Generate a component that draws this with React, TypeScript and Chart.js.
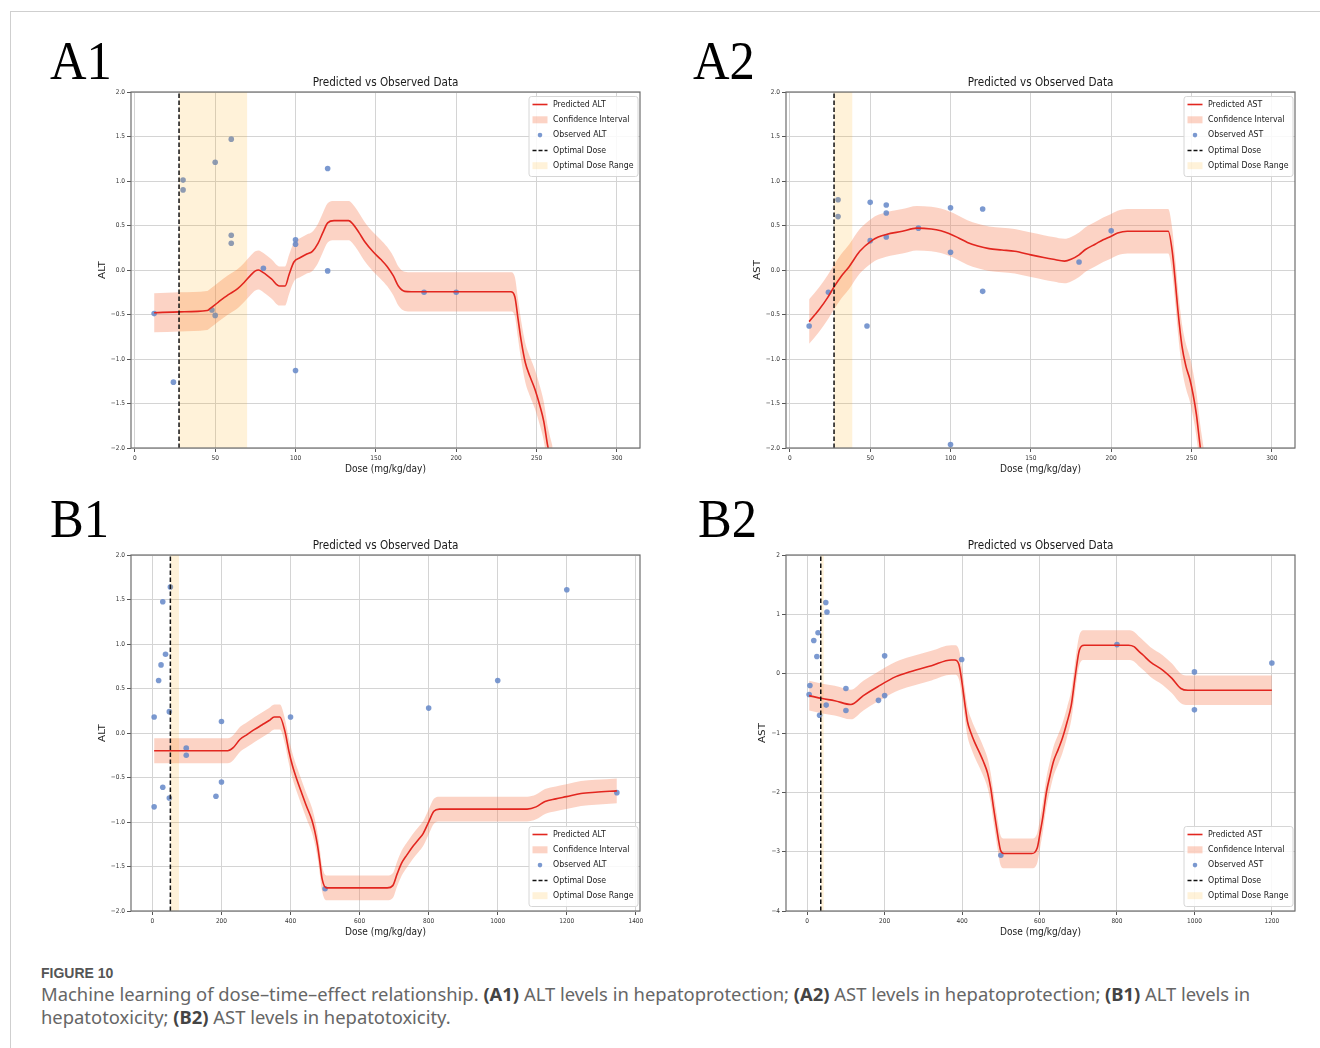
import React, { useEffect, useRef } from 'react';
import { Chart, registerables } from 'chart.js';

Chart.register(...registerables);

// ---------------- A1 : ALT, hepatoprotection ----------------
const a1PredDose = [12, 28, 45, 47, 52, 58, 64, 68, 72, 75, 77, 80, 85, 90, 93.5, 96, 99, 103, 107, 110.5, 114, 117, 120, 124, 133, 136, 139.5, 143, 148, 153, 157, 161, 164, 168, 172, 234, 236.5, 238.5, 240.5, 243, 246, 249, 252, 254.5, 257, 260];
const a1PredALT = [-0.48, -0.47, -0.455, -0.43, -0.36, -0.28, -0.21, -0.14, -0.06, -0.01, 0.0, -0.03, -0.1, -0.18, -0.18, -0.05, 0.09, 0.14, 0.18, 0.21, 0.3, 0.42, 0.53, 0.555, 0.555, 0.51, 0.42, 0.32, 0.21, 0.12, 0.04, -0.07, -0.18, -0.24, -0.245, -0.245, -0.3, -0.55, -0.8, -1.04, -1.2, -1.34, -1.52, -1.7, -1.98, -2.2];
const a1CiHalfWidth = 0.22;
const a1ObsDose = [12, 24, 30, 30, 48, 50, 50, 60, 60, 60, 80, 100, 100, 100, 120, 120, 180, 200];
const a1ObsALT = [-0.49, -1.26, 1.01, 0.9, -0.45, 1.21, -0.51, 1.47, 0.39, 0.3, 0.02, 0.34, 0.29, -1.13, 1.14, -0.01, -0.25, -0.25];
const a1OptimalDose = 27.5;
const a1OptimalRange = [27.5, 70];

// ---------------- A2 : AST, hepatoprotection ----------------
const a2PredDose = [12, 18, 23.5, 27.5, 32, 37, 43.5, 51, 55, 60, 70, 79, 88, 94, 99, 105, 110.5, 117, 124, 132, 140, 150, 158, 164, 171, 175, 180, 184, 190, 195, 200, 204, 210, 235.5, 238, 240, 241.5, 244, 246.5, 249, 251, 253, 255.5, 258];
const a2PredAST = [-0.58, -0.45, -0.31, -0.19, -0.07, 0.04, 0.21, 0.33, 0.37, 0.4, 0.435, 0.47, 0.46, 0.44, 0.41, 0.36, 0.31, 0.27, 0.24, 0.225, 0.21, 0.17, 0.14, 0.12, 0.1, 0.12, 0.17, 0.23, 0.29, 0.34, 0.38, 0.415, 0.435, 0.435, 0.21, -0.15, -0.45, -0.85, -1.08, -1.23, -1.4, -1.62, -2.0, -2.3];
const a2CiHalfWidth = 0.25;
const a2ObsDose = [12, 24, 30, 30, 48, 50, 50, 60, 60, 60, 80, 100, 100, 100, 120, 120, 180, 200];
const a2ObsAST = [-0.63, -0.25, 0.79, 0.6, -0.63, 0.76, 0.33, 0.73, 0.64, 0.37, 0.47, 0.7, 0.2, -1.96, 0.685, -0.24, 0.09, 0.44];
const a2OptimalDose = 27.5;
const a2OptimalRange = [27.5, 39];

// ---------------- B1 : ALT, hepatotoxicity ----------------
const b1PredDose = [5, 218, 234, 254, 275, 296, 317, 338, 353, 369, 384, 395, 405, 418, 431, 446, 462, 470, 478, 485, 491, 504, 680, 696, 709, 722, 737, 753, 770, 784, 800, 815, 831, 1085, 1111, 1137, 1168, 1199, 1241, 1283, 1345];
const b1PredALT = [-0.2, -0.2, -0.165, -0.07, -0.015, 0.04, 0.09, 0.14, 0.18, 0.18, 0.015, -0.2, -0.36, -0.52, -0.66, -0.82, -0.98, -1.1, -1.26, -1.45, -1.63, -1.74, -1.74, -1.715, -1.58, -1.46, -1.37, -1.28, -1.2, -1.13, -1.0, -0.88, -0.855, -0.855, -0.83, -0.77, -0.74, -0.715, -0.68, -0.665, -0.65];
const b1CiHalfWidth = 0.14;
const b1ObsDose = [5, 5, 18, 25, 30, 30, 38, 49, 49, 52, 98, 98, 184, 200, 200, 400, 500, 800, 1000, 1200, 1345];
const b1ObsALT = [0.18, -0.83, 0.59, 0.765, 1.475, -0.61, 0.885, 0.24, -0.73, 1.64, -0.17, -0.25, -0.71, 0.13, -0.55, 0.18, -1.75, 0.28, 0.59, 1.61, -0.67];
const b1OptimalDose = 52;
const b1OptimalRange = [52, 77];

// ---------------- B2 : AST, hepatotoxicity ----------------
const b2PredDose = [5, 39, 71, 113, 145, 182, 229, 266, 321, 372, 381, 392, 400, 407, 414, 423, 432, 445, 455, 466, 474, 481, 488, 494, 499, 508, 580, 594, 601, 608, 618, 627, 636, 648, 659, 671, 682, 692, 703, 715, 830, 844, 856, 868, 886, 918, 942, 965, 983, 1200];
const b2PredAST = [-0.37, -0.42, -0.455, -0.52, -0.37, -0.22, -0.05, 0.034, 0.135, 0.23, 0.23, 0.15, -0.16, -0.5, -0.81, -1.0, -1.15, -1.33, -1.48, -1.68, -1.93, -2.25, -2.55, -2.8, -2.97, -3.03, -3.03, -2.94, -2.7, -2.44, -1.99, -1.72, -1.48, -1.28, -1.09, -0.82, -0.53, -0.05, 0.4, 0.48, 0.48, 0.455, 0.38, 0.31, 0.2, 0.06, -0.08, -0.25, -0.28, -0.28];
const b2CiHalfWidth = 0.25;
const b2ObsDose = [5, 7, 17, 25, 28, 32, 48, 51, 49, 100, 100, 184, 200, 200, 399, 500, 800, 1000, 1000, 1200];
const b2ObsAST = [-0.35, -0.2, 0.56, 0.29, 0.69, -0.7, 1.2, 1.04, -0.53, -0.25, -0.62, -0.45, 0.3, -0.37, 0.24, -3.06, 0.49, 0.03, -0.61, 0.18];
const b2OptimalDose = 35;
const b2OptimalRange = [35, 43];

// ---------------- ticks ----------------
const aDoseTicks = [0, 50, 100, 150, 200, 250, 300];
const aDoseTickLabels = ['0', '50', '100', '150', '200', '250', '300'];
const b1DoseTicks = [0, 200, 400, 600, 800, 1000, 1200, 1400];
const b1DoseTickLabels = ['0', '200', '400', '600', '800', '1000', '1200', '1400'];
const b2DoseTicks = [0, 200, 400, 600, 800, 1000, 1200];
const b2DoseTickLabels = ['0', '200', '400', '600', '800', '1000', '1200'];
const halfStepTicks = [-2, -1.5, -1, -0.5, 0, 0.5, 1, 1.5, 2];
const halfStepTickLabels = ['\u22122.0', '\u22121.5', '\u22121.0', '\u22120.5', '0.0', '0.5', '1.0', '1.5', '2.0'];
const b2LevelTicks = [-4, -3, -2, -1, 0, 1, 2];
const b2LevelTickLabels = ['\u22124', '\u22123', '\u22122', '\u22121', '0', '1', '2'];

// ---------------- styles ----------------
const SX = 0.87;
const TXT_FONT = "'DejaVu Sans', 'Liberation Sans', sans-serif";
const TICK_FONT = "'DejaVu Sans Condensed', 'DejaVu Sans', sans-serif";
const COL_PRED = '#e2261f';
const COL_CI = 'rgba(245,130,90,0.35)';
const COL_OBS = 'rgba(100,135,200,0.85)';
const COL_SPAN = 'rgba(255,165,0,0.15)';
const COL_DASH = '#111111';

type Panel = {
  key: string;
  marker: string;
  predX: number[];
  predY: number[];
  ciHalf: number;
  obsX: number[];
  obsY: number[];
  opt: number;
  range: number[];
  xMin: number;
  xMax: number;
  yMin: number;
  yMax: number;
  xTicks: number[];
  xLabels: string[];
  yTicks: number[];
  yLabels: string[];
  legendTop: boolean;
  yTitleOffset: number;
  L: number;
  T: number;
  R: number;
  B: number;
};

const panels: Panel[] = [
  { key: 'A1', marker: 'ALT', predX: a1PredDose, predY: a1PredALT, ciHalf: a1CiHalfWidth, obsX: a1ObsDose, obsY: a1ObsALT, opt: a1OptimalDose, range: a1OptimalRange, xMin: -2.4, xMax: 314.4, yMin: -2, yMax: 2, xTicks: aDoseTicks, xLabels: aDoseTickLabels, yTicks: halfStepTicks, yLabels: halfStepTickLabels, legendTop: true, yTitleOffset: 28.5, L: 131, T: 92, R: 640, B: 448 },
  { key: 'A2', marker: 'AST', predX: a2PredDose, predY: a2PredAST, ciHalf: a2CiHalfWidth, obsX: a2ObsDose, obsY: a2ObsAST, opt: a2OptimalDose, range: a2OptimalRange, xMin: -2.4, xMax: 314.4, yMin: -2, yMax: 2, xTicks: aDoseTicks, xLabels: aDoseTickLabels, yTicks: halfStepTicks, yLabels: halfStepTickLabels, legendTop: true, yTitleOffset: 28.5, L: 786, T: 92, R: 1295, B: 448 },
  { key: 'B1', marker: 'ALT', predX: b1PredDose, predY: b1PredALT, ciHalf: b1CiHalfWidth, obsX: b1ObsDose, obsY: b1ObsALT, opt: b1OptimalDose, range: b1OptimalRange, xMin: -62, xMax: 1412, yMin: -2, yMax: 2, xTicks: b1DoseTicks, xLabels: b1DoseTickLabels, yTicks: halfStepTicks, yLabels: halfStepTickLabels, legendTop: false, yTitleOffset: 28.5, L: 131, T: 555, R: 640, B: 911 },
  { key: 'B2', marker: 'AST', predX: b2PredDose, predY: b2PredAST, ciHalf: b2CiHalfWidth, obsX: b2ObsDose, obsY: b2ObsAST, opt: b2OptimalDose, range: b2OptimalRange, xMin: -54.75, xMax: 1259.75, yMin: -4, yMax: 2, xTicks: b2DoseTicks, xLabels: b2DoseTickLabels, yTicks: b2LevelTicks, yLabels: b2LevelTickLabels, legendTop: false, yTitleOffset: 23.5, L: 786, T: 555, R: 1295, B: 911 },
];

function drawText(ctx: CanvasRenderingContext2D, s: string, x: number, y: number, size: number, align: CanvasTextAlign, color: string, rotate = false) {
  ctx.save();
  ctx.translate(x, y);
  ctx.scale(SX, 1);
  if (rotate) ctx.rotate(-Math.PI / 2);
  ctx.font = `${size}px ${TXT_FONT}`;
  ctx.fillStyle = color;
  ctx.textAlign = align;
  ctx.textBaseline = 'middle';
  ctx.fillText(s, 0, 0);
  ctx.restore();
}

function makeDecor(p: Panel) {
  return {
    id: 'decor' + p.key,
    afterDraw(chart: any) {
      const ctx: CanvasRenderingContext2D = chart.ctx;
      const ca = chart.chartArea;
      ctx.save();
      ctx.strokeStyle = '#6e6e6e';
      ctx.lineWidth = 1.2;
      ctx.strokeRect(ca.left, ca.top, ca.right - ca.left, ca.bottom - ca.top);
      const cx = (ca.left + ca.right) / 2;
      const cy = (ca.top + ca.bottom) / 2;
      drawText(ctx, 'Predicted vs Observed Data', cx, ca.top - 9, 12, 'center', '#1a1a1a');
      drawText(ctx, 'Dose (mg/kg/day)', cx, ca.bottom + 21, 10.4, 'center', '#1a1a1a');
      drawText(ctx, p.marker, ca.left - p.yTitleOffset, cy, 10.4, 'center', '#1a1a1a', true);

      const bw = 109;
      const bh = 80;
      const bx = ca.right - 2.5 - bw;
      const by = p.legendTop ? ca.top + 4 : ca.bottom - 5 - bh;
      ctx.beginPath();
      (ctx as any).roundRect(bx + 0.5, by + 0.5, bw, bh, 2.5);
      ctx.fillStyle = 'rgba(255,255,255,0.85)';
      ctx.fill();
      ctx.strokeStyle = '#d6d6d6';
      ctx.lineWidth = 1;
      ctx.stroke();
      const rows = [`Predicted ${p.marker}`, 'Confidence Interval', `Observed ${p.marker}`, 'Optimal Dose', 'Optimal Dose Range'];
      rows.forEach((label, i) => {
        const y = by + 8.5 + i * 15.3;
        const h0 = bx + 4;
        const h1 = bx + 19;
        if (i === 0) {
          ctx.strokeStyle = COL_PRED;
          ctx.lineWidth = 1.6;
          ctx.setLineDash([]);
          ctx.beginPath();
          ctx.moveTo(h0, y);
          ctx.lineTo(h1, y);
          ctx.stroke();
        } else if (i === 1) {
          ctx.fillStyle = COL_CI;
          ctx.fillRect(h0, y - 3.5, h1 - h0, 7);
        } else if (i === 2) {
          ctx.fillStyle = COL_OBS;
          ctx.beginPath();
          ctx.arc((h0 + h1) / 2, y, 2.3, 0, Math.PI * 2);
          ctx.fill();
        } else if (i === 3) {
          ctx.strokeStyle = COL_DASH;
          ctx.lineWidth = 1.5;
          ctx.setLineDash([4, 2]);
          ctx.beginPath();
          ctx.moveTo(h0, y);
          ctx.lineTo(h1, y);
          ctx.stroke();
          ctx.setLineDash([]);
        } else {
          ctx.fillStyle = COL_SPAN;
          ctx.fillRect(h0, y - 3.5, h1 - h0, 7);
        }
        drawText(ctx, label, bx + 24.5, y, 9, 'left', '#1a1a1a');
      });
      ctx.restore();
    },
  };
}

function buildConfig(p: Panel): any {
  const pred = p.predX.map((x, i) => ({ x, y: p.predY[i] }));
  const upper = p.predX.map((x, i) => ({ x, y: p.predY[i] + p.ciHalf }));
  const lower = p.predX.map((x, i) => ({ x, y: p.predY[i] - p.ciHalf }));
  const obs = p.obsX.map((x, i) => ({ x, y: p.obsY[i] }));
  return {
    type: 'line',
    data: {
      datasets: [
        { type: 'line', label: 'Predicted', data: pred, borderColor: COL_PRED, borderWidth: 1.6, pointRadius: 0, fill: false, cubicInterpolationMode: 'monotone', order: 1, clip: 0 },
        { type: 'line', label: 'Optimal Dose', data: [{ x: p.opt, y: p.yMin }, { x: p.opt, y: p.yMax }], borderColor: COL_DASH, borderWidth: 1.5, borderDash: [4.5, 2.5], pointRadius: 0, fill: false, order: 0, clip: 0 },
        { type: 'line', label: 'Optimal Dose Range', data: [{ x: p.range[0], y: p.yMax }, { x: p.range[1], y: p.yMax }], borderColor: 'rgba(0,0,0,0)', borderWidth: 0, backgroundColor: COL_SPAN, pointRadius: 0, fill: 'start', order: 2, clip: 0 },
        { type: 'scatter', label: 'Observed', data: obs, backgroundColor: COL_OBS, borderWidth: 0, pointRadius: 2.8, order: 3, clip: 0 },
        { type: 'line', label: 'CI upper', data: upper, borderColor: 'rgba(0,0,0,0)', borderWidth: 0, pointRadius: 0, backgroundColor: COL_CI, fill: '+1', cubicInterpolationMode: 'monotone', order: 4, clip: 0 },
        { type: 'line', label: 'CI lower', data: lower, borderColor: 'rgba(0,0,0,0)', borderWidth: 0, pointRadius: 0, fill: false, cubicInterpolationMode: 'monotone', order: 5, clip: 0 },
      ],
    },
    options: {
      animation: false,
      responsive: false,
      maintainAspectRatio: false,
      events: [],
      layout: { padding: { left: 0, top: 32, right: 13, bottom: 0 } },
      plugins: { legend: { display: false }, title: { display: false }, tooltip: { enabled: false } },
      scales: {
        x: {
          type: 'linear',
          min: p.xMin,
          max: p.xMax,
          afterBuildTicks: (s: any) => { s.ticks = p.xTicks.map((v) => ({ value: v })); },
          afterFit: (s: any) => { s.height = 42; s.paddingLeft = 0; s.paddingRight = 0; },
          ticks: { autoSkip: false, maxRotation: 0, padding: 2, color: '#333', font: { family: TICK_FONT, size: 6.5 }, callback: (_v: any, i: number) => p.xLabels[i] },
          grid: { color: '#d4d4d4', lineWidth: 1, tickLength: 4, tickColor: '#555', tickWidth: 1 },
          border: { display: false },
        },
        y: {
          type: 'linear',
          min: p.yMin,
          max: p.yMax,
          afterBuildTicks: (s: any) => { s.ticks = p.yTicks.map((v) => ({ value: v })); },
          afterFit: (s: any) => { s.width = 50; s.paddingTop = 0; s.paddingBottom = 0; },
          ticks: { autoSkip: false, padding: 2, color: '#333', font: { family: TICK_FONT, size: 6.5 }, callback: (_v: any, i: number) => p.yLabels[i] },
          grid: { color: '#d4d4d4', lineWidth: 1, tickLength: 4, tickColor: '#555', tickWidth: 1 },
          border: { display: false },
        },
      },
    },
    plugins: [makeDecor(p)],
  };
}

function PanelChart({ p }: { p: Panel }) {
  const ref = useRef<HTMLCanvasElement>(null);
  const w = p.R - p.L + 63;
  const h = p.B - p.T + 74;
  useEffect(() => {
    const chart = new Chart(ref.current as HTMLCanvasElement, buildConfig(p));
    return () => chart.destroy();
  }, []);
  return (
    <canvas
      ref={ref}
      width={w}
      height={h}
      style={{ position: 'absolute', left: p.L - 50, top: p.T - 32, width: w, height: h }}
    />
  );
}

const bigLabelStyle: React.CSSProperties = {
  position: 'absolute',
  font: "55px 'Liberation Serif', 'DejaVu Serif', serif",
  lineHeight: '55px',
  color: '#000',
  transform: 'scaleX(0.92)',
  transformOrigin: 'left top',
  whiteSpace: 'nowrap',
};

const boldStyle: React.CSSProperties = { color: '#444', fontWeight: 700 };

export default function App() {
  return (
    <div style={{ position: 'absolute', left: 0, top: 0, width: 1320, height: 1048, background: '#fff', overflow: 'hidden' }}>
      <div style={{ position: 'absolute', left: 10, top: 11, width: 1320, height: 1048, borderTop: '1px solid #cfcfcf', borderLeft: '1px solid #cfcfcf' }} />
      <div style={{ ...bigLabelStyle, left: 50, top: 33 }}>A1</div>
      <div style={{ ...bigLabelStyle, left: 693, top: 33 }}>A2</div>
      <div style={{ ...bigLabelStyle, left: 50, top: 491 }}>B1</div>
      <div style={{ ...bigLabelStyle, left: 698, top: 491 }}>B2</div>
      {panels.map((p) => (
        <PanelChart key={p.key} p={p} />
      ))}
      <div style={{ position: 'absolute', left: 41, top: 965, font: "bold 14px 'Liberation Sans', Arial, sans-serif", lineHeight: '16px', color: '#555', whiteSpace: 'nowrap' }}>
        FIGURE 10
      </div>
      <div style={{ position: 'absolute', left: 41, top: 981.5, font: "18.4px 'Noto Sans', 'Open Sans', sans-serif", lineHeight: '23px', color: '#666', whiteSpace: 'nowrap' }}>
        Machine learning of dose–time–effect relationship. <span style={boldStyle}>(A1)</span> ALT levels in hepatoprotection; <span style={boldStyle}>(A2)</span> AST levels in hepatoprotection; <span style={boldStyle}>(B1)</span> ALT levels in
        <br />
        hepatotoxicity; <span style={boldStyle}>(B2)</span> AST levels in hepatotoxicity.
      </div>
    </div>
  );
}
